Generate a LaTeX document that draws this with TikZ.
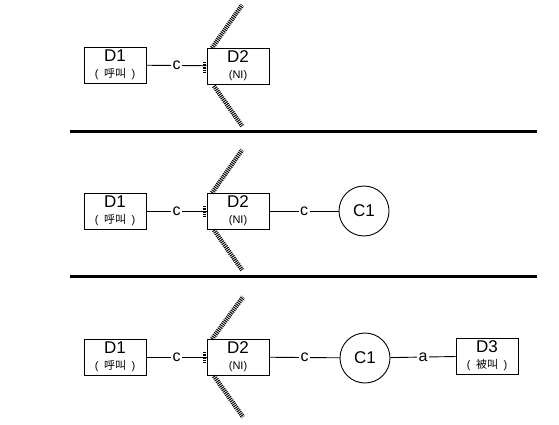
\documentclass[tikz,border=0pt]{standalone}
\usepackage{fontspec}
\setmainfont{Liberation Sans}
\newfontfamily\cjk{Noto Sans CJK SC}
\begin{document}
\begin{tikzpicture}[x=1pt,y=-1pt,
  dev/.style={draw,line width=0.9pt,minimum width=62pt,minimum height=36pt,inner sep=0pt,align=center,font=\fontsize{17}{15}\selectfont},
  ctrl/.style={draw,circle,line width=0.9pt,minimum size=50pt,inner sep=0pt,font=\fontsize{17}{17}\selectfont},
  conn/.style={line width=0.9pt},
  lab/.style={fill=white,inner sep=1.5pt,font=\fontsize{16}{16}\selectfont},
  hatch/.style={line width=4.5pt,dash pattern=on 1pt off 1pt},
  sep/.style={line width=3pt},
  tick/.style={line width=3pt,dash pattern=on 0.8pt off 0.8pt}]
\useasboundingbox (0,0) rectangle (559,425);
\newcommand{\sub}[1]{{\fontsize{11}{11}\selectfont #1}}
\newcommand{\cn}[1]{{\fontsize{11}{11}\selectfont (\enspace{\cjk #1}\enspace)}}
% panel 1
\node[dev] (a1) at (115,65) {D1\\[1pt]\cn{呼叫}};
\node[dev] (b1) at (238,66) {D2\\[1pt]\sub{(NI)}};
\draw[conn] (a1) -- node[lab] {c} (b1);
\coordinate (h1a) at (212,48); \coordinate (h1b) at (242,5);
\coordinate (h1c) at (214,86); \coordinate (h1d) at (242,126);
\draw[hatch] (h1a) -- (h1b);
\draw[hatch] (h1c) -- (h1d);
\coordinate (t1a) at (204,62); \coordinate (t1b) at (204,72);
\draw[tick] (t1a) -- (t1b);
% separator 1
\coordinate (s1a) at (70,131); \coordinate (s1b) at (537,131);
\draw[sep] (s1a) -- (s1b);
% panel 2
\node[dev] (a2) at (115,211) {D1\\[1pt]\cn{呼叫}};
\node[dev] (b2) at (238,211) {D2\\[1pt]\sub{(NI)}};
\node[ctrl] (c2) at (364,211) {C1};
\draw[conn] (a2) -- node[lab] {c} (b2);
\draw[conn] (b2) -- node[lab] {c} (c2);
\coordinate (h2a) at (212,193); \coordinate (h2b) at (242,150);
\coordinate (h2c) at (214,230); \coordinate (h2d) at (242,270);
\draw[hatch] (h2a) -- (h2b);
\draw[hatch] (h2c) -- (h2d);
\coordinate (t2a) at (204,206); \coordinate (t2b) at (204,216);
\draw[tick] (t2a) -- (t2b);
% separator 2
\coordinate (s2a) at (70,276); \coordinate (s2b) at (537,276);
\draw[sep] (s2a) -- (s2b);
% panel 3
\node[dev] (a3) at (115,357) {D1\\[1pt]\cn{呼叫}};
\node[dev] (b3) at (238,357) {D2\\[1pt]\sub{(NI)}};
\node[ctrl] (c3) at (365,358) {C1};
\node[dev] (d3) at (487,356) {D3\\[1pt]\cn{被叫}};
\draw[conn] (a3) -- node[lab] {c} (b3);
\draw[conn] (b3) -- node[lab] {c} (c3);
\draw[conn] (c3) -- node[lab] {a} (d3);
\coordinate (h3a) at (212,339); \coordinate (h3b) at (243,297);
\coordinate (h3c) at (214,376); \coordinate (h3d) at (243,417);
\draw[hatch] (h3a) -- (h3b);
\draw[hatch] (h3c) -- (h3d);
\coordinate (t3a) at (204,352); \coordinate (t3b) at (204,362);
\draw[tick] (t3a) -- (t3b);
\end{tikzpicture}
\end{document}
